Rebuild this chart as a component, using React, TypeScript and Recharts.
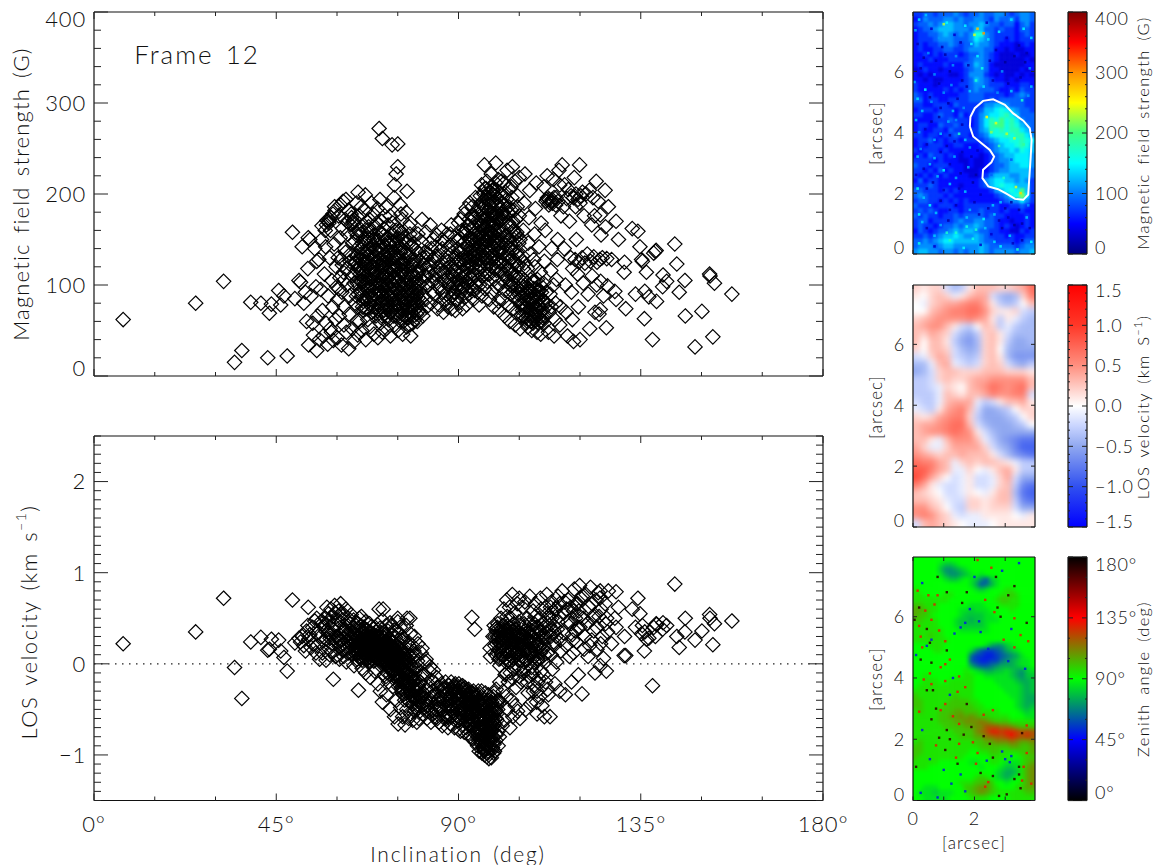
import { ScatterChart, Scatter, XAxis, YAxis, ReferenceLine, ReferenceArea } from "recharts";

const PAGE_W = 1161;
const PAGE_H = 865;
const FONT = "Lato, 'Open Sans', sans-serif";
const INK = "#111";

// each row: inclination (deg), field strength (G), LOS velocity (km/s)
const outliersLeft = [
  [7.2, 62, 0.22], [25.1, 80, 0.35], [32, 104, 0.72], [34.7, 15, -0.04], [36.5, 28, -0.38], [38.7, 81, 0.24],
  [41.2, 80, 0.29], [42.9, 20, 0.15], [43.3, 69, 0.16], [43.8, 79, 0.27], [46.1, 78, 0.14], [45.6, 94, 0.26],
  [46.9, 88, 0.07], [47.7, 22, -0.08], [49.6, 85, 0.23], [49, 158, 0.7], [52.9, 152, 0.62],
];
const outliersTop = [
  [70.4, 272, 0.6], [71.2, 261, 0.48], [73.6, 254, 0.42], [75, 255, 0.46], [75, 230, 0.5], [74.6, 222, 0.36],
  [74.2, 210, 0.3], [77.3, 203, 0.5], [65.2, 202, 0.44], [67, 199, 0.38],
];
const outliersRight = [
  [157.5, 90, 0.47], [152.8, 43, 0.21], [153.2, 102, 0.44], [152, 112, 0.54], [152.1, 110, 0.5], [150.1, 71, 0.36],
  [148.4, 32, 0.26], [146, 66, 0.5], [144.5, 92, 0.18], [145.9, 105, 0.35], [143.9, 123, 0.3], [143.4, 145, 0.875],
  [137.9, 40, -0.24], [135.9, 63, 0.14], [136.4, 114, 0.27], [140.5, 111, 0.45], [141.4, 104, 0.42], [140.4, 98, 0.38],
  [138.8, 138, 0.44], [138.2, 135, 0.4], [135.2, 128, 0.33], [134.8, 142, 0.55], [134.3, 159, 0.72], [132.9, 162, 0.6],
  [131.3, 74, 0.09], [138.9, 82, 0.43], [137, 87, 0.28], [136, 93, 0.35], [133.7, 90, 0.4], [130.9, 114, 0.09],
  [131, 125, 0.3], [128.9, 170, 0.79], [127, 186, 0.8], [125, 177, 0.8], [126.5, 53, -0.08], [125, 73, -0.02],
  [128.9, 84, 0.4], [128.6, 93, 0.5], [126.8, 99, 0.35], [126.6, 129, 0.5], [129.5, 150, 0.62], [127.8, 128, 0.22],
  [135.4, 126, 0.42], [138.6, 137, 0.3],
];
const band50 = [
  [50.6, 105, 0.28], [51, 103, 0.24], [51.4, 142, 0.3], [51.8, 80, 0.2], [52.2, 92, 0.14], [52.5, 60, 0.36], [52.8, 118, 0.42],
  [53, 34, 0.27], [53.3, 150, 0.32], [53.6, 88, 0.18], [54, 58, 0.4], [54.2, 45, 0.22], [54.5, 140, 0.47], [54.8, 98, 0.12],
  [55, 28, 0.33], [55, 126, 0.5],
];
const band55 = [
  [55.2, 66, 0.2], [55.5, 128, 0.35], [55.7, 40, 0.05], [56, 95, 0.3], [56.2, 150, 0.47], [56.4, 72, 0.12], [56.6, 44, 0.25],
  [56.9, 112, 0.4], [57.1, 160, 0.5], [57.3, 58, 0.04], [57.5, 171, 0.62], [57.7, 35, 0.18], [57.8, 88, 0.34], [58, 168, 0.45],
  [58.2, 130, 0.1], [58.3, 52, 0.28], [58.5, 174, 0.6], [58.7, 105, 0.22], [58.9, 76, 0.38], [59, 178, 0.52], [59.1, 39, -0.17],
  [59.3, 145, 0.42], [59.5, 182, 0.56], [59.6, 62, 0.08], [59.8, 120, 0.3], [59.9, 98, 0.25], [56.3, 165, 0.44], [57.2, 142, 0.36],
  [58.6, 48, 0.14], [59.4, 186, 0.64], [57.9, 170, 0.55], [58.1, 172, 0.48], [58.4, 160, 0.33], [57.4, 166, 0.27],
];
const band60 = [
  [60.1, 42, 0.1], [60.2, 84, 0.3], [60.3, 130, 0.48], [60.4, 176, 0.58], [60.6, 66, 0.05], [60.7, 108, 0.25], [60.8, 152, 0.4],
  [60.9, 188, 0.66], [61.1, 34, 0.2], [61.2, 92, 0.34], [61.3, 122, 0.15], [61.4, 162, 0.52], [61.5, 192, 0.55], [61.7, 56, 0.08],
  [61.8, 76, 0.28], [61.9, 140, 0.42], [62, 172, 0.38], [62.2, 194, 0.6], [62.3, 48, 0.02], [62.4, 100, 0.18], [62.5, 118, 0.31],
  [62.6, 156, 0.46], [62.8, 182, 0.5], [62.9, 30, 0.12], [63, 68, 0.24], [63.1, 88, 0.36], [63.3, 134, 0.44], [63.4, 166, 0.29],
  [63.5, 178, 0.54], [63.7, 52, 0.1], [63.8, 110, 0.21], [63.9, 146, 0.33], [64, 170, 0.4], [64.1, 168, 0.48], [64.2, 38, -0.02],
  [64.4, 80, 0.16], [64.5, 124, 0.26], [64.6, 158, 0.37], [64.8, 190, 0.45], [65, 60, 0.05], [65, 102, 0.2], [64.3, 172, 0.23],
  [63.6, 174, 0.3], [62.7, 169, 0.17], [61, 128, 0.27], [61.6, 114, 0.22], [62.1, 136, 0.35], [63.2, 126, 0.19], [64.7, 132, 0.31],
  [64.9, 116, 0.12], [60.5, 96, 0.19], [61.9, 106, 0.37],
];
const band65 = [
  [65.1, 45, 0.02], [65.2, 76, 0.3], [65.3, 118, -0.29], [65.4, 142, 0.25], [65.5, 176, 0.5], [65.6, 60, 0.14], [65.7, 96, 0.36],
  [65.8, 128, 0.08], [65.9, 156, 0.42], [66, 186, 0.52], [66.1, 50, 0.2], [66.2, 88, -0.05], [66.3, 110, 0.28], [66.4, 136, 0.33],
  [66.5, 166, 0.16], [66.6, 72, 0.4], [66.7, 104, 0.11], [66.8, 122, 0.24], [66.9, 150, 0.31], [67, 182, 0.46], [67.1, 40, -0.1],
  [67.2, 84, 0.18], [67.3, 116, 0.05], [67.4, 132, 0.27], [67.5, 160, 0.37], [67.6, 62, 0.22], [67.7, 94, 0.3], [67.8, 108, 0.13],
  [67.9, 140, 0.01], [68, 172, 0.44], [68.1, 54, 0.07], [68.2, 78, -0.15], [68.3, 124, 0.34], [68.4, 146, 0.2], [68.5, 190, 0.41],
  [68.6, 70, 0.26], [68.7, 100, 0.15], [68.8, 120, 0.29], [68.9, 154, 0.09], [69, 178, 0.38], [69.1, 46, 0.03], [69.2, 90, 0.32],
  [69.3, 112, -0.08], [69.4, 138, 0.23], [69.5, 164, 0.17], [69.6, 66, 0.35], [69.7, 98, 0.06], [69.8, 126, 0.25], [69.9, 148, 0.12],
  [70, 184, 0.43], [65.4, 106, 0.21], [66.2, 146, 0.19], [67, 126, 0.15], [67.7, 152, 0.28], [68.3, 134, 0.1], [68.9, 86, 0.2],
  [69.4, 114, 0.28], [66.5, 82, 0.23], [67.4, 74, 0.12], [68.2, 106, 0.33],
];
const band70 = [
  [70.1, 42, -0.22], [70.2, 74, 0.24], [70.3, 102, 0.06], [70.4, 128, 0.3], [70.5, 158, 0.18], [70.6, 194, 0.39], [70.7, 58, -0.3],
  [70.8, 88, 0.14], [70.9, 116, 0.26], [71, 140, 0.02], [71.1, 170, 0.34], [71.2, 48, -0.42], [71.3, 82, 0.1], [71.4, 110, 0.6],
  [71.5, 132, 0.21], [71.6, 162, 0.28], [71.7, 68, -0.12], [71.8, 96, 0.17], [71.9, 122, 0.04], [72, 150, 0.32], [72.1, 186, 0.42],
  [72.2, 52, -0.34], [72.3, 78, 0.08], [72.4, 106, 0.22], [72.5, 136, 0.13], [72.6, 166, 0.36], [72.7, 62, -0.2], [72.8, 90, 0.27],
  [72.9, 118, -0.05], [73, 144, 0.16], [73.1, 176, 0.45], [73.2, 44, -0.5], [73.3, 84, 0.03], [73.4, 112, 0.19], [73.5, 130, 0.31],
  [73.6, 156, -0.09], [73.7, 72, 0.12], [73.8, 100, -0.25], [73.9, 124, 0.24], [74, 148, 0.07], [74.1, 196, 0.37], [74.2, 56, -0.58],
  [74.3, 86, -0.14], [74.4, 108, 0.15], [74.5, 134, 0.29], [74.6, 160, -0.02], [74.7, 66, -0.4], [74.8, 94, 0.09], [74.9, 120, 0.2],
  [75, 142, -0.18], [70.5, 110, 0.2], [71, 92, 0.11], [71.4, 146, 0.07], [72, 76, 0.25], [72.4, 152, -0.1], [72.8, 100, 0.16],
  [73.2, 128, 0.1], [73.6, 92, 0.23], [74, 116, -0.06], [74.5, 76, -0.1], [70.9, 128, 0.14], [71.7, 108, 0.28], [72.5, 90, -0.02],
  [73.3, 148, 0.26], [74.1, 132, 0.18], [70.3, 86, 0.3], [71.2, 120, 0.06], [72.1, 114, -0.14], [73, 70, 0.05], [74.8, 150, 0.13],
];
const band75 = [
  [75.1, 50, -0.66], [75.2, 78, -0.25], [75.3, 104, 0.04], [75.4, 130, 0.22], [75.5, 160, -0.12], [75.6, 188, 0.4], [75.7, 60, -0.48],
  [75.8, 88, -0.07], [75.9, 116, 0.15], [76, 144, 0.3], [76.1, 172, -0.32], [76.2, 46, -0.58], [76.3, 72, -0.18], [76.4, 98, 0.09],
  [76.5, 124, 0.27], [76.6, 152, -0.02], [76.7, 66, -0.4], [76.8, 84, -0.67], [76.9, 110, 0.18], [77, 136, -0.2], [77.1, 180, 0.42],
  [77.2, 54, -0.5], [77.3, 76, -0.1], [77.4, 94, 0.12], [77.5, 120, -0.3], [77.6, 148, 0.24], [77.7, 64, -0.6], [77.8, 82, -0.22],
  [77.9, 106, 0.01], [78, 132, 0.5], [78.1, 168, 0.33], [78.2, 44, -0.55], [78.3, 70, -0.35], [78.4, 92, -0.15], [78.5, 114, 0.06],
  [78.6, 142, 0.2], [78.7, 58, -0.62], [78.8, 80, -0.44], [78.9, 102, -0.26], [79, 126, 0.14], [79.1, 154, 0.3], [79.2, 62, -0.52],
  [79.3, 86, -0.38], [79.4, 108, -0.05], [79.5, 118, 0.1], [79.6, 138, -0.16], [79.7, 68, -0.64], [79.8, 90, -0.28], [79.9, 112, 0.03],
  [80, 156, 0.22], [75.4, 92, -0.15], [76, 68, -0.28], [76.7, 128, 0.04], [77.3, 100, -0.05], [78, 88, -0.12], [78.8, 122, 0.08],
  [79.5, 74, -0.48], [75.8, 136, 0.07], [76.4, 116, -0.1], [77.5, 74, -0.34], [78.4, 76, -0.22], [79.2, 96, -0.18],
];
const band80 = [
  [80.2, 72, -0.6], [80.4, 96, -0.4], [80.6, 118, -0.2], [80.8, 148, 0.12], [81, 172, 0.17], [81.2, 66, -0.55], [81.4, 88, -0.32],
  [81.6, 110, -0.12], [81.8, 136, 0.02], [82, 158, 0.05], [82.2, 76, -0.6], [82.4, 100, -0.46], [82.6, 122, -0.25], [82.8, 146, -0.08],
  [83, 166, -0.03], [83.2, 80, -0.64], [83.4, 104, -0.52], [83.6, 128, -0.35], [83.8, 150, -0.07], [84, 90, -0.58], [84.2, 112, -0.44],
  [84.4, 132, -0.22], [84.6, 155, -0.15], [84.8, 74, -0.6], [85, 98, -0.4], [80.3, 126, -0.28], [81.1, 104, -0.46], [81.9, 84, -0.4],
  [82.7, 114, -0.38], [83.5, 92, -0.3], [84.3, 142, -0.5], [84.9, 120, -0.25], [80.9, 82, -0.12], [82.1, 130, -0.5], [83.3, 140, -0.18],
];
const band85 = [
  [85.2, 78, -0.64], [85.4, 112, -0.3], [85.6, 138, -0.5], [85.8, 160, -0.22], [86, 92, -0.68], [86.2, 124, -0.4], [86.4, 148, -0.26],
  [86.6, 84, -0.56], [86.8, 106, -0.2], [87, 132, -0.6], [87.2, 156, -0.32], [87.4, 76, -0.7], [87.6, 100, -0.24], [87.8, 120, -0.46],
  [88, 144, -0.66], [88.2, 166, -0.2], [88.4, 88, -0.38], [88.6, 110, -0.3], [88.8, 128, -0.54], [89, 152, -0.7], [89.2, 72, -0.22],
  [89.4, 96, -0.44], [89.6, 116, -0.26], [89.8, 140, -0.62], [90, 168, -0.72], [85.5, 96, -0.48], [86.5, 114, -0.6], [87.5, 140, -0.4],
  [88.5, 120, -0.28], [89.5, 84, -0.5], [87.1, 90, -0.34], [88.3, 74, -0.58], [89.3, 130, -0.34], [86.3, 70, -0.28], [88.9, 102, -0.24],
];
const band90 = [
  [90.1, 80, -0.22], [90.2, 106, -0.4], [90.3, 128, -0.3], [90.4, 152, -0.6], [90.5, 172, -0.74], [90.6, 92, -0.25], [90.7, 114, -0.5],
  [90.8, 138, -0.36], [90.9, 160, -0.68], [91, 74, -0.24], [91.1, 98, -0.44], [91.2, 122, -0.28], [91.3, 146, -0.58], [91.4, 178, -0.75],
  [91.5, 86, -0.32], [91.6, 110, -0.26], [91.7, 132, -0.52], [91.8, 156, -0.4], [91.9, 184, -0.7], [92, 78, -0.3], [92.1, 102, -0.62],
  [92.2, 118, -0.45], [92.3, 142, -0.34], [92.4, 166, -0.76], [92.5, 90, -0.28], [92.6, 126, -0.55], [92.7, 150, -0.38], [92.8, 190, -0.8],
  [92.9, 108, -0.46], [93, 136, -0.66], [93.1, 162, -0.32], [93.3, 96, 0.51], [93.4, 120, -0.6], [93.5, 144, -0.42], [93.6, 174, -0.82],
  [93.7, 84, -0.3], [93.8, 112, -0.72], [94, 130, 0.38], [94.1, 154, -0.36], [94.2, 196, -0.86], [94.3, 100, -0.52], [94.4, 124, -0.34],
  [94.5, 148, -0.66], [94.6, 170, -0.44], [94.7, 92, -0.9], [94.8, 116, -0.58], [94.9, 140, -0.3], [95, 186, -0.78], [95, 158, -0.5],
  [93.9, 134, -0.5], [92.7, 130, -0.58], [91.1, 158, -0.5], [90.5, 124, -0.45], [94.4, 180, -0.74], [93.2, 176, -0.54], [95, 106, -0.84],
];
const band95 = [
  [95.1, 78, -0.96], [95.2, 100, -0.34], [95.3, 122, -0.72], [95.4, 144, -0.45], [95.5, 166, -0.88], [95.6, 190, -0.56], [95.7, 210, -0.3],
  [95.8, 88, -0.98], [95.9, 110, -0.64], [96, 132, -0.38], [96.1, 154, -0.8], [96.2, 176, -0.5], [96.3, 200, -0.94], [96.4, 232, -1.0],
  [96.5, 96, -0.7], [96.6, 118, -0.32], [96.7, 140, -0.9], [96.8, 162, -0.6], [96.9, 184, -0.42], [97, 214, -1.02], [97.1, 104, -0.78],
  [97.2, 126, -0.52], [97.3, 148, -0.96], [97.4, 170, -0.34], [97.5, 194, -1.04], [97.6, 84, -0.66], [97.7, 112, -0.86], [97.8, 136, 0.17],
  [97.9, 158, 0.08], [98, 180, -0.44], [98.1, 222, -1.03], [98.2, 92, -0.74], [98.3, 120, -0.58], [98.4, 142, -0.92], [98.5, 164, 0.3],
  [98.6, 204, -0.36], [98.7, 76, -0.98], [98.8, 106, 0.42], [98.9, 130, -0.7], [99, 152, 0.2], [99.1, 174, -0.5], [99.2, 234, -0.84],
  [99.3, 98, -0.28], [99.4, 116, 0.36], [99.5, 138, -0.62], [99.6, 160, 0.12], [99.7, 186, 0.44], [99.8, 216, -0.9], [99.9, 82, -0.4],
  [100, 128, 0.05], [96, 192, -0.7], [96.6, 172, -0.76], [97.2, 182, -0.82], [97.8, 202, -0.6], [98.4, 190, -0.54], [99, 198, 0.3],
  [95.4, 198, -0.62], [96.2, 146, -0.6], [97, 156, -0.66], [97.6, 166, -0.5], [98.2, 172, -0.42], [99.2, 166, 0.38], [95.9, 174, -0.44],
  [96.8, 130, -0.8], [97.4, 124, -0.72], [98, 152, -0.8], [98.8, 178, -0.32], [99.6, 144, 0.4], [95.2, 150, -0.7], [96.4, 112, -0.88],
  [97.1, 194, -0.56], [98.3, 204, -0.7], [99.4, 190, 0.22], [99.8, 172, 0.28],
];
const band100 = [
  [100.1, 72, -0.8], [100.2, 100, -0.2], [100.3, 124, 0.32], [100.4, 148, -0.42], [100.5, 172, 0.5], [100.6, 200, 0.1], [100.8, 84, -0.68],
  [100.9, 112, 0.42], [101, 136, -0.3], [101.1, 160, 0.2], [101.2, 188, 0.6], [101.3, 212, 0.36], [101.4, 66, -0.62], [101.5, 94, -0.12],
  [101.6, 120, 0.3], [101.7, 144, 0.02], [101.8, 168, -0.36], [101.9, 194, 0.7], [102, 226, 0.52], [102.1, 78, -0.5], [102.2, 106, 0.26],
  [102.3, 130, -0.2], [102.4, 152, 0.14], [102.5, 178, 0.4], [102.6, 206, 0.62], [102.7, 60, -0.7], [102.8, 90, -0.1], [102.9, 116, 0.34],
  [103, 140, 0.08], [103.1, 164, -0.4], [103.2, 196, 0.24], [103.3, 230, 0.76], [103.4, 74, -0.58], [103.5, 102, 0.18], [103.6, 126, 0.44],
  [103.7, 150, -0.06], [103.8, 182, 0.3], [103.9, 214, 0.56], [104, 56, -0.46], [104.1, 86, 0.12], [104.2, 110, -0.26], [104.3, 134, 0.38],
  [104.4, 158, 0.22], [104.5, 186, 0.66], [104.6, 70, -0.52], [104.7, 96, 0.3], [104.8, 122, 0.04], [104.9, 146, 0.46], [105, 176, -0.14],
  [105, 218, 0.72], [100.7, 140, 0.26], [101.4, 176, 0.16], [102, 146, 0.36], [102.6, 126, 0.1], [103.4, 170, 0.4], [104, 124, 0.25],
  [104.6, 154, 0.34], [100.4, 190, 0.18], [101, 104, 0.28], [103, 100, 0.32],
];
const band105 = [
  [105.2, 52, -0.6], [105.4, 80, -0.2], [105.6, 108, 0.3], [105.8, 132, 0.62], [106, 160, -0.1], [106.2, 190, 0.44], [106.4, 222, 0.68],
  [106.6, 64, -0.5], [106.8, 92, 0.14], [107, 118, 0.5], [107.2, 146, -0.32], [107.4, 174, 0.26], [107.6, 204, 0.74], [107.8, 60, -0.44],
  [108, 72, -0.04], [108.2, 84, 0.36], [108.4, 104, 0.58], [108.6, 128, -0.24], [108.8, 156, 0.08], [109, 184, 0.66], [109.2, 212, 0.4],
  [109.4, 48, -0.55], [109.6, 66, 0.22], [109.8, 78, -0.16], [110, 94, 0.5], [110.2, 114, 0.72], [105.5, 66, 0.2], [106.1, 76, 0.02],
  [106.7, 58, 0.3], [107.3, 82, -0.14], [107.9, 68, 0.1], [108.5, 62, -0.3], [109.1, 76, 0.26], [109.7, 58, 0.4], [110.1, 70, -0.36],
  [106.5, 100, 0.42], [107.5, 92, 0.24], [108.7, 88, 0.44], [109.5, 106, 0.06], [105.9, 88, 0.32], [107.1, 54, 0.16], [108.1, 50, -0.12],
  [109.3, 88, -0.42], [110.3, 46, 0.34], [106.3, 124, 0.16], [107.7, 134, 0.3], [108.9, 120, 0.52], [109.9, 142, 0.18], [110.4, 168, 0.6],
];
const band110 = [
  [110.6, 60, -0.46], [110.8, 84, 0.16], [111, 102, 0.44], [111.2, 126, -0.58], [111.4, 160, 0.28], [111.6, 192, 0.62], [111.8, 194, 0.76],
  [112, 196, 0.12], [112.2, 48, -0.34], [112.4, 70, 0.5], [112.6, 90, -0.58], [112.8, 116, 0.3], [113, 140, 0.68], [113.2, 190, -0.06],
  [113.4, 216, 0.42], [113.6, 44, 0.2], [113.8, 62, -0.22], [114, 80, 0.6], [114.2, 106, 0.02], [114.4, 128, 0.38], [114.6, 192, 0.74],
  [114.8, 226, 0.52], [115, 56, -0.3], [115.2, 76, 0.26], [112.3, 188, 0.35], [113.1, 194, 0.5], [114.1, 196, 0.3], [111.1, 208, 0.4],
  [115, 210, 0.66], [112.9, 76, 0.1], [111.5, 80, -0.2], [113.5, 100, 0.24], [114.5, 150, 0.46], [115.3, 176, 0.14], [111.9, 220, 0.55],
];
const band115 = [
  [115.6, 232, 0.8], [115.9, 186, 0.34], [116.1, 140, 0.56], [116.4, 100, -0.34], [116.6, 70, 0.2], [116.9, 44, 0.46], [117.1, 205, 0.7],
  [117.4, 170, 0.08], [117.7, 130, 0.62], [117.9, 92, -0.2], [118.1, 62, 0.32], [118.4, 38, 0.12], [118.6, 218, 0.82], [118.9, 186, 0.5],
  [119.1, 150, 0.24], [119.4, 112, 0.66], [119.6, 76, -0.12], [119.9, 232, 0.86], [120, 40, 0.4], [120.2, 198, 0.72], [120.5, 130, -0.33],
  [120.8, 102, 0.5], [121, 176, 0.16], [116.7, 195, 0.6], [117.8, 198, 0.44], [118.8, 128, 0.36], [119.7, 125, 0.58], [116.2, 210, 0.68],
  [118.2, 118, 0.26], [121.2, 124, 0.3],
];
const band120 = [
  [121.5, 200, 0.76], [121.8, 134, 0.44], [122, 90, 0.08], [122.3, 204, 0.62], [122.6, 126, 0.84], [122.9, 166, 0.26], [123.2, 196, 0.5],
  [123.4, 131, 0.36], [123.7, 70, -0.1], [124, 214, 0.7], [124.2, 125, 0.16], [124.5, 192, 0.78], [124.7, 68, 0.52], [125.2, 155, 0.6],
  [125.5, 130, 0.3], [125.8, 88, 0.06], [126.2, 204, 0.66], [126.3, 164, 0.44], [122.4, 52, 0.2], [123, 110, 0.66], [124.1, 100, 0.4],
  [124.9, 128, 0.72], [125.1, 104, 0.22], [123.6, 176, 0.54],
];
// the black cores of the two clouds
const coreLeft = [
  [64.6, 126, 0.2], [65, 132, 0.3], [65.5, 118, 0.12], [65.9, 140, 0.24], [66.3, 126, 0.34], [66.7, 112, 0.18], [67.1, 136, 0.28], [67.5, 120, 0.1],
  [67.9, 98, 0.22], [68.3, 116, 0.3], [68.7, 130, 0.16], [69.1, 106, 0.08], [69.5, 124, 0.2], [69.9, 94, 0.3], [70.3, 136, 0.12], [70.7, 100, 0.24],
  [71.1, 124, 0.14], [71.5, 86, 0.02], [71.9, 112, 0.2], [72.3, 130, 0.08], [72.7, 108, -0.02], [73.1, 96, 0.18], [73.5, 118, 0.06], [73.9, 84, -0.08],
  [74.3, 130, 0.14], [74.7, 104, 0.02], [75.1, 120, -0.1], [75.5, 84, 0.1], [75.9, 100, -0.2], [76.3, 124, -0.04], [76.7, 80, 0.06], [77.1, 106, -0.16],
  [77.5, 90, -0.26], [77.9, 76, -0.06], [78.3, 100, -0.3], [78.7, 86, -0.14], [79.1, 72, -0.36], [79.5, 94, -0.24], [79.9, 80, -0.44], [80.3, 102, -0.34],
  [66, 92, 0.14], [66.8, 86, 0.26], [67.6, 110, 0.06], [68.4, 88, 0.18], [69.2, 76, 0.1], [70, 72, 0.2], [70.8, 80, 0.04], [71.6, 72, 0.16],
  [72.4, 66, 0.1], [73.2, 76, -0.12], [74, 66, 0.04], [74.8, 78, -0.2], [75.6, 66, -0.12], [76.4, 60, -0.34], [77.2, 64, -0.24], [78, 56, -0.42],
  [68, 150, 0.16], [69, 142, 0.26], [70, 150, 0.06], [71, 156, 0.2], [72, 142, 0.02], [73, 136, 0.22], [74, 160, 0.1], [75, 152, 0.04],
  [76, 158, 0.14], [77, 146, -0.1], [78, 156, 0.08], [79, 146, -0.06], [65, 154, 0.12], [66.4, 158, 0.36], [67.4, 170, 0.08], [69.8, 168, 0.22],
  [71.8, 176, 0.04], [73.8, 168, 0.16], [75.8, 178, 0.26], [77.8, 164, 0.2],
];
const coreLeftDense = [
  [64.2, 102, 0.22], [64.5, 148, 0.32], [64.8, 88, 0.1], [65.1, 122, 0.27], [65.4, 160, 0.18], [65.7, 112, 0.06], [66, 134, 0.32], [66.3, 76, 0.2],
  [66.6, 148, 0.12], [66.9, 100, 0.3], [67.2, 124, 0.22], [67.5, 88, 0.14], [67.8, 164, 0.26], [68.1, 128, 0.04], [68.4, 70, 0.28], [68.7, 112, 0.12],
  [69, 150, 0.32], [69.3, 96, 0.18], [69.6, 132, 0.08], [69.9, 110, 0.24], [70.2, 80, 0.16], [70.5, 142, 0.28], [70.8, 120, -0.02], [71.1, 66, 0.12],
  [71.4, 100, 0.22], [71.7, 154, 0.1], [72, 124, 0.14], [72.3, 84, 0.04], [72.6, 116, 0.24], [72.9, 146, 0.1], [73.2, 104, -0.06], [73.5, 70, 0.08],
  [73.8, 136, 0.18], [74.1, 90, 0.02], [74.4, 120, 0.12], [74.7, 146, -0.06], [75, 72, -0.14], [75.3, 110, 0.08], [75.6, 136, -0.02], [75.9, 92, -0.26],
  [76.2, 150, 0.02], [76.5, 76, -0.18], [76.8, 118, -0.08], [77.1, 92, -0.32], [77.4, 132, 0.06], [77.7, 70, -0.12], [78, 112, -0.24], [78.3, 144, -0.02],
  [78.6, 84, -0.36], [78.9, 66, -0.2], [79.2, 128, -0.1], [79.5, 102, -0.3], [79.8, 60, -0.5], [80.1, 86, -0.24], [80.4, 134, -0.36], [80.7, 70, -0.44],
  [65.2, 90, 0.16], [65.8, 104, 0.22], [66.4, 118, 0.08], [67, 74, 0.32], [67.6, 138, 0.16], [68.2, 160, 0.3], [68.8, 94, 0.24], [69.4, 84, 0.14],
  [70, 126, 0.18], [70.6, 92, 0.1], [71.2, 110, 0.2], [71.8, 134, 0.16], [72.4, 100, 0.06], [73, 120, 0.2], [73.6, 108, 0], [74.2, 78, 0.1],
  [74.8, 130, 0.08], [75.4, 100, -0.04], [76, 112, -0.14], [76.6, 136, 0.1], [77.2, 84, -0.12], [77.8, 96, -0.2], [78.4, 122, -0.16], [79, 110, -0.36],
  [79.6, 88, -0.4], [80.2, 114, -0.46], [66.2, 104, 0.04], [67.3, 96, 0.18], [68.6, 76, 0.06], [69.7, 140, 0.14], [70.9, 64, 0.24], [72.2, 92, 0.14],
  [73.4, 90, 0.12], [74.6, 94, -0.02], [75.7, 122, -0.16], [76.9, 100, 0.02], [78.1, 84, -0.3], [79.3, 78, -0.28],
];
const coreMiddle = [
  [81, 130, -0.36], [81.5, 122, -0.44], [82, 110, -0.3], [82.5, 134, -0.52], [83, 120, -0.42], [83.5, 110, -0.56], [84, 126, -0.34], [84.5, 104, -0.5],
  [85, 132, -0.44], [85.5, 116, -0.36], [86, 140, -0.52], [86.5, 104, -0.44], [87, 118, -0.34], [87.5, 126, -0.54], [88, 104, -0.4], [88.5, 136, -0.48],
  [89, 116, -0.3], [89.5, 106, -0.56], [90, 126, -0.38], [90.5, 100, -0.5], [91, 116, -0.34], [91.5, 140, -0.46], [92, 130, -0.56], [92.5, 112, -0.38],
  [93, 122, -0.5], [93.5, 132, -0.32], [94, 110, -0.46], [94.5, 136, -0.6], [87, 80, -0.46], [88, 86, -0.58], [89, 92, -0.36], [90, 88, -0.62],
  [91, 96, -0.54], [92, 94, -0.44], [93, 98, -0.68], [94, 94, -0.76], [86, 150, -0.38], [88, 156, -0.46], [90, 150, -0.3], [92, 160, -0.64],
  [87.3, 108, -0.28], [87.8, 98, -0.38], [88.3, 112, -0.5], [88.8, 92, -0.26], [89.3, 122, -0.42], [89.8, 100, -0.32], [90.3, 136, -0.26], [90.8, 108, -0.56],
  [91.3, 128, -0.4], [91.8, 104, -0.3], [92.3, 120, -0.62], [92.8, 140, -0.48], [93.3, 106, -0.36], [93.8, 150, -0.58], [94.3, 118, -0.66], [94.8, 128, -0.42],
];
const coreRight = [
  [92.6, 172, -0.4], [93, 150, -0.5], [93.4, 186, -0.62], [93.8, 164, -0.34], [94.2, 144, -0.52], [94.6, 160, -0.72], [95, 134, -0.42], [95.4, 176, -0.84],
  [95.8, 154, -0.5], [96.2, 126, -0.7], [96.6, 150, -0.44], [97, 176, -0.88], [97.4, 140, -0.62], [97.8, 158, -0.92], [98.2, 132, -0.5], [98.6, 168, -0.8],
  [99, 140, -0.66], [99.4, 178, -0.44], [99.8, 154, -0.74], [96, 168, -0.58], [96.4, 186, -0.96], [96.8, 206, -0.78], [97.2, 166, -0.98], [97.6, 188, -0.4],
  [98, 208, -0.72], [98.4, 166, -0.62], [98.8, 192, -0.88], [99.2, 148, -0.52], [99.6, 120, 0.3], [100, 160, 0.16], [100.4, 116, 0.36], [100.8, 178, 0.28],
  [101.2, 128, 0.2], [101.6, 154, 0.34], [102, 118, 0.12], [102.4, 186, 0.26], [102.8, 140, 0.4], [103.2, 112, 0.22], [103.6, 160, 0.06], [104, 96, 0.34],
  [104.4, 136, 0.14], [104.8, 108, 0.28], [105.2, 150, 0.42], [105.6, 92, 0.08], [106, 118, 0.3], [100.2, 136, -0.02], [101, 180, 0.08], [101.8, 108, -0.1],
  [102.6, 150, 0.02], [103.4, 92, -0.16], [104.2, 172, 0.1], [105, 84, -0.04], [105.8, 72, 0.2], [106.4, 84, 0.36], [106.8, 70, 0.04], [107.2, 96, 0.26],
  [107.6, 80, 0.44], [108, 60, 0.12], [108.4, 74, 0.3], [108.8, 66, 0.02], [109.2, 96, 0.2], [109.6, 84, -0.2], [110, 64, 0.36], [110.4, 86, -0.08],
  [110.8, 72, 0.28], [111.2, 58, 0.1], [111.6, 92, 0.34], [112, 78, -0.28], [105.4, 100, 0.1], [106.2, 106, -0.06], [107, 76, -0.2], [107.8, 106, 0.16],
  [108.6, 96, -0.1], [109.4, 72, -0.3], [110.2, 100, 0.06], [111, 66, -0.12], [99.2, 212, 0.1], [100.6, 214, 0.38], [101.6, 202, 0.44], [103, 208, 0.5],
  [104.6, 198, 0.16], [100, 184, 0.3],
];
const coreRightDense = [
  [93.2, 128, -0.44], [93.6, 156, -0.66], [94, 174, -0.5], [94.4, 140, -0.36], [94.8, 152, -0.8], [95.2, 118, -0.58], [95.6, 144, -0.76], [96, 110, -0.46],
  [96.3, 162, -0.84], [96.6, 130, -0.62], [96.9, 196, -0.5], [97.2, 112, -0.74], [97.5, 152, -0.58], [97.8, 176, -0.82], [98.1, 120, -0.44], [98.4, 200, -0.94],
  [98.7, 146, -0.68], [99, 178, -0.54], [99.3, 126, -0.78], [99.6, 196, -0.4], [95.3, 166, -0.52], [95.7, 184, -0.66], [96.1, 138, -0.92], [96.5, 206, -0.72],
  [96.9, 148, -0.42], [97.3, 200, -0.92], [97.7, 130, -0.56], [98.1, 158, -0.66], [98.5, 128, -0.86], [98.9, 160, -0.96], [99.3, 204, -0.6], [99.7, 136, -0.5],
  [100, 146, 0.24], [100.3, 170, 0.06], [100.6, 126, 0.34], [100.9, 196, 0.14], [101.2, 152, 0.26], [101.5, 112, 0.06], [101.8, 184, 0.32], [102.1, 134, 0.2],
  [102.4, 168, 0.04], [102.7, 100, 0.3], [103, 182, 0.14], [103.3, 130, 0.26], [103.6, 146, 0.36], [103.9, 108, 0], [104.2, 156, 0.24], [104.5, 120, 0.12],
  [104.8, 90, 0.2], [105.1, 130, 0.32], [105.4, 78, 0.04], [105.7, 96, 0.22], [106, 66, 0.3], [106.3, 90, 0.14], [106.6, 76, 0.26], [106.9, 102, 0.04],
  [107.2, 62, 0.36], [107.5, 84, 0.12], [107.8, 94, 0.3], [108.1, 78, 0.2], [108.4, 58, 0.06], [108.7, 104, 0.26], [109, 68, 0.14], [109.3, 82, 0.34],
  [109.6, 94, 0.04], [109.9, 76, 0.22], [110.2, 60, 0.12], [110.5, 92, 0.3], [110.8, 64, 0.04], [111.1, 82, 0.2],
  [113, 192, 0.56], [112.4, 194, 0.42], [112.7, 190, 0.62], [113.6, 196, 0.36], [114, 188, 0.6], [118.4, 196, 0.58], [119, 200, 0.66], [119.5, 194, 0.4],
  [120, 190, 0.52], [120.6, 202, 0.74],
];

const cloudPoints = [
  ...outliersLeft, ...outliersTop, ...outliersRight, ...band50, ...band55, ...band60, ...band65, ...band70,
  ...band75, ...band80, ...band85, ...band90, ...band95, ...band100, ...band105, ...band110, ...band115, ...band120,
  ...coreLeft, ...coreLeftDense, ...coreMiddle, ...coreRight, ...coreRightDense,
];
const fieldData = cloudPoints.map((p) => ({ x: p[0], y: p[1] }));
const velocityData = cloudPoints.map((p) => ({ x: p[0], y: p[2] }));

// field map: one character per cell, base 36, in units of 18 G
const fieldRows = [
  "445545556545565566545665", "346555665655665465564665", "455656776656676554553564", "345567776665775545443554",
  "344556765656996544443454", "344456665556876544343444", "343445565455766543332343", "343344554456665533232233",
  "334343444345565432223223", "333433344445665432222232", "343333433355765322222233", "234332333345665332222323",
  "323233322346664323223232", "332322333345765433232333", "433323333445665444333443", "433333434345655543343544",
  "543433333445554444345654", "553443344445554545555544", "443344435444446677655544", "344434443444457789876554",
  "443345443534467889a87555", "333344454443468a9b9a8655", "344335445443468abb9a9765", "343344354444467a9a9aa875",
  "443443445443456899a9aa86", "344534344344445678899a98", "343444334433344567889a97", "434443433333334567787987",
  "343544343233323456778886", "444434333223223456678886", "544344433323223455677886", "443435343322233456677775",
  "434343433332234677766775", "353443333333346788776764", "444543333233345789887774", "554443434333333467898b74",
  "565444343333333345689c84", "455443434343333334566864", "544434443344444443344543", "454543344344454443433433",
  "545443445455554544333343", "455344445655665543323343", "454434556566765543432343", "354345567677655443322434",
  "445456778766765444343344", "556567887777765544443455", "566656776666676555554566", "677665665656676566665667",
];

// isolated pixels on the field map: arcsec, arcsec, G
const fieldSpeckles = [
  [0.2, 7.7, 140], [0.6, 7.4, 30], [1.1, 7.6, 150], [1.35, 7.2, 30], [1.7, 7.5, 150], [2.4, 7.6, 30], [2.8, 7.3, 150], [3.2, 7.7, 140], [3.6, 7.4, 150], [3.85, 7.1, 140],
  [0.15, 6.9, 20], [0.5, 6.6, 110], [0.95, 6.8, 20], [1.4, 6.5, 110], [1.9, 6.9, 150], [2.1, 6.5, 150], [2.25, 6.1, 160], [1.8, 6.2, 20], [2.7, 6.7, 20], [3.3, 6.5, 10],
  [0.25, 6.1, 20], [0.7, 5.9, 110], [1.2, 6.0, 15], [1.6, 5.7, 15], [2.05, 5.7, 170], [2.3, 5.5, 140], [2.9, 6.0, 110], [3.5, 5.8, 20], [3.8, 6.1, 110], [0.4, 5.4, 150],
  [0.15, 5.1, 140], [0.55, 5.15, 15], [1.0, 5.3, 110], [1.45, 5.1, 20], [1.85, 5.35, 130], [2.75, 5.3, 110], [3.2, 5.35, 130], [3.55, 5.05, 170], [3.75, 5.2, 110], [0.9, 4.8, 20],
  [0.3, 4.7, 130], [1.3, 4.7, 130], [0.6, 4.35, 15], [1.15, 4.35, 120], [1.6, 4.25, 20], [0.2, 4.0, 110], [0.9, 3.95, 130], [1.5, 3.95, 170], [1.7, 3.75, 130], [0.45, 3.6, 20],
  [1.1, 3.55, 20], [0.15, 3.2, 130], [0.7, 3.15, 130], [1.35, 3.2, 120], [1.9, 3.2, 20], [0.35, 2.8, 20], [1.0, 2.75, 150], [1.55, 2.65, 15], [2.05, 2.6, 15], [0.15, 2.15, 160],
  [0.65, 2.35, 20], [1.2, 2.3, 130], [1.7, 2.05, 130], [0.35, 1.85, 130], [0.9, 1.75, 15], [1.4, 1.6, 20], [2.0, 1.7, 20], [2.6, 1.6, 130], [3.0, 1.5, 15], [3.45, 1.45, 15],
  [0.2, 1.3, 150], [0.75, 1.35, 130], [1.15, 1.1, 15], [1.75, 1.2, 130], [2.3, 1.15, 150], [2.8, 1.1, 20], [3.3, 0.95, 10], [3.7, 1.2, 130], [0.45, 0.85, 20], [1.4, 0.7, 170],
  [2.05, 0.8, 170], [2.55, 0.65, 30], [3.15, 0.6, 130], [3.55, 0.45, 20], [0.2, 0.35, 160], [0.7, 0.25, 30], [1.2, 0.45, 180], [1.65, 0.2, 150], [2.2, 0.3, 30], [2.85, 0.25, 150],
  [3.4, 0.15, 170], [3.85, 0.4, 150], [2.4, 4.5, 250], [2.7, 4.3, 240], [2.55, 4.0, 220], [3.05, 3.95, 230], [3.3, 3.8, 230], [3.6, 3.6, 190], [3.35, 2.2, 240], [3.5, 2.0, 270],
  [2.95, 2.5, 170], [2.55, 2.6, 90], [3.2, 3.1, 90], [2.8, 3.55, 180], [2.1, 7.4, 280], [2.0, 7.2, 240], [2.3, 7.25, 300], [1.0, 7.55, 230],
  [0.08, 7.35, 120], [0.42, 7.85, 130], [0.85, 7.1, 110], [1.55, 6.95, 20], [2.45, 7.05, 140], [3.05, 7.1, 30], [3.45, 6.85, 15], [3.7, 6.6, 20], [0.35, 6.45, 15], [0.75, 6.35, 30],
  [1.05, 6.55, 15], [1.3, 6.2, 110], [2.5, 6.35, 20], [3.0, 6.3, 10], [3.65, 6.3, 10], [0.05, 5.65, 120], [0.85, 5.6, 20], [1.25, 5.55, 110], [1.75, 5.5, 20], [2.6, 5.7, 20],
  [3.1, 5.6, 15], [3.85, 5.5, 130], [0.6, 5.0, 110], [1.15, 4.95, 15], [1.65, 4.8, 110], [0.1, 4.4, 130], [0.85, 4.5, 15], [1.4, 4.4, 110], [0.4, 4.1, 25], [1.2, 3.9, 20],
  [0.7, 3.75, 125], [1.35, 3.7, 25], [1.85, 3.5, 110], [0.25, 3.45, 110], [0.9, 3.35, 25], [1.6, 3.35, 25], [2.1, 3.4, 25], [0.55, 2.95, 125], [1.2, 2.95, 25], [1.8, 2.85, 120],
  [0.1, 2.6, 25], [0.8, 2.55, 125], [1.4, 2.5, 120], [1.95, 2.35, 15], [0.45, 2.15, 25], [1.0, 2.1, 25], [1.5, 2.15, 25], [2.2, 1.95, 25], [2.45, 1.5, 20], [2.85, 1.7, 130],
  [3.2, 1.7, 15], [3.75, 1.6, 110], [0.55, 1.6, 150], [1.2, 1.45, 25], [1.85, 1.45, 120], [2.15, 1.3, 25], [2.65, 1.3, 130], [3.1, 1.2, 25], [3.55, 1.0, 15], [0.3, 1.05, 130],
  [0.9, 0.95, 120], [1.75, 0.9, 160], [2.35, 0.85, 130], [2.9, 0.85, 15], [3.8, 0.85, 15], [0.7, 0.6, 130], [1.1, 0.7, 170], [1.95, 0.5, 160], [2.65, 0.4, 140], [3.25, 0.35, 25],
];

// velocity map in tenths of km/s
const velocityRows = [
  [2, 1, 2, 2, -2, -4, -3, 1, 3, 3, 3, 2, 2, 3, 4, 7],
  [1, 0, 2, 3, 2, -1, 1, 3, 4, 4, -2, -4, -5, -4, 2, 6],
  [0, -1, 2, 3, 4, 4, 5, 6, 6, 4, 1, -3, -4, -3, 0, 3],
  [0, 0, 3, 4, 5, 6, 6, 7, 7, 5, 2, 1, 1, 2, -2, -3],
  [2, 3, 4, 5, 5, 5, 5, 6, 5, 4, 1, -3, 1, -1, -3, -4],
  [3, 4, 5, 5, 3, 1, -2, -3, 0, 3, 2, -3, -1, -3, -4, -4],
  [3, 2, 4, 3, 2, -2, -4, -5, -3, 2, 3, 1, -2, -4, -4, -4],
  [3, 0, 3, 3, 1, -3, -5, -6, -4, 2, 3, 1, -3, -5, -5, -4],
  [2, 0, 3, 3, 2, -2, -4, -5, -4, 2, 3, 0, -4, -5, -5, -5],
  [-2, -1, 2, 4, 3, -2, -3, -4, -3, 2, 3, 1, -4, -6, -6, -6],
  [-4, -4, -1, 3, 4, -1, -2, -3, -2, 2, 3, 2, -2, -4, -5, -3],
  [-5, -4, -2, 2, 3, 3, 2, 2, 2, 3, 3, 3, 2, 2, 2, 1],
  [-3, -3, -2, 2, 3, 2, 2, 3, 4, 4, 5, 5, 5, 5, 5, 3],
  [-3, -3, -2, -1, 2, 1, 0, 3, 4, 5, 7, 6, 5, 6, 7, 3],
  [-3, -3, -3, -1, 3, 2, 1, 3, 3, 4, 6, 5, 5, 6, 6, -2],
  [-2, -3, -3, -1, 3, 4, 4, 4, -1, -3, -2, 1, 3, 3, 4, 1],
  [-1, -2, -3, 1, 4, 5, 6, 3, -2, -5, -5, -4, -3, 0, 2, 2],
  [2, 1, 2, 4, 5, 6, 6, 2, -3, -5, -5, -5, -4, -3, 0, 2],
  [3, 4, 4, 5, 6, 7, 7, 3, -2, -4, -5, -5, -5, -4, -3, 0],
  [3, 4, 5, 5, 6, 7, 6, 5, 1, -2, -4, -5, -5, -5, -5, -5],
  [3, 3, 1, -1, 3, 5, 5, 5, 3, -1, -3, -5, -6, -7, -8, -8],
  [4, 2, -1, -1, 2, 4, 4, 4, 4, 2, -2, -4, -5, -7, -9, -9],
  [5, 4, 3, 2, 3, 3, 4, 3, 3, 3, 1, -2, -4, -6, -7, -8],
  [7, 6, 6, 4, 3, -1, 2, 3, 2, 3, 3, 2, 1, -1, -3, -3],
  [8, 8, 6, 4, 3, -1, -1, 2, 0, -1, 1, 3, 4, 1, -3, -3],
  [9, 7, 4, 2, 0, -2, -1, 1, -2, -2, -1, 2, 4, -2, -5, -5],
  [6, 4, 1, -1, -2, -2, -1, 1, -2, -2, -1, 2, 3, -3, -7, -8],
  [3, 2, 1, 0, -2, -2, -1, 1, 0, -1, 1, 3, 3, -4, -8, -9],
  [3, 3, 2, 1, -1, -2, -2, 2, 2, 1, 2, 3, 3, -3, -7, -8],
  [5, 5, 3, 2, 0, -2, -3, 2, 2, 1, 2, 2, 2, -2, -5, -5],
  [5, 6, 5, 3, 2, -1, -2, -1, -1, 1, 1, 1, 1, 0, -1, 1],
  [-2, 3, 4, 3, 2, 1, 0, -1, -1, -1, 0, 1, 1, 1, 1, 1],
];

// zenith map: one character per cell, base 36, in units of 5 deg (i = 90)
const zenithRows = [
  "iiiiiiiiiiiiiiiiiiiiiiii", "iiiiihgghiiiiiiiiiiiiiii", "iiiiigeefghiiiiiiiiiiiii", "iiiiihfeefghihiiiiiiiiii",
  "iiiiiihgghihgecghiiiiiii", "iiiiiiiiiiihfcdfhiiiiiii", "jiiiiiiiiiiihghiiijjiiii", "jjiiiijjiiiiiiiiijjkjiii",
  "jjjjjjjiiiiiiiiijkkjjiii", "kkjjjiiiiiihhhiiijjjjiii", "llkjjiiiihhghhhiiiijiiii", "lkkjiiiiihgggghhiiiiiiii",
  "kkjjjiiihggfgghhhiiiiiii", "jjjjjiiihggggghiiiiiiiii", "jjjjjjiiihhhhhhiiiiiiiii", "jjjkjjiiiiiiiiiiiiiiiiii",
  "jjjjjjjiiiiiiiiiiiiiiiii", "iiijjjiiiiiiiihfeeghiiii", "iiiijjiiiiihecbbcdfghiii", "iiiiiiiiiiidbbaabcdefhii",
  "iiiiiiiiiiicbaabbdefghhi", "iiiiiiiiiiifdccdefffghhi", "iiiiiiiiiijihgffgghgfegh", "iijiiiiiiijjiihhhhhgfegg",
  "iijjjiijjjjjiiiihhhhgffg", "ijjjjjjjjjjjiiiiihhhhgfg", "jjjjjjjjjjjjiiiiiihhhgfg", "kjjjjjjjkjjjiiiiiiihhgff",
  "kkjjjjjkkkkjjiiiiiiihgff", "kkjjjjkkkkkkjjiiiiiihgfg", "jkjjjkkkllkkkjjjjiiiihgh", "jjjjjkkllmlmlkkjjjjiiihh",
  "jjjjjkkkllmmmnmlkkkjjjjj", "jjjjjjkkkkllmmooonnmlkkk", "jjjjjjjjkkkkmnoqqpqqpopo", "jjjjjjjjjkkkllnnoopqpopo",
  "jkjjjjjjjjjjkkllmmmnmllm", "kkjjjjjjjjjjjkkkkkkllkkl", "kkjjjjjjjjjiijjkkjjjjkkl", "kjjjjjjjjjiiiiijjjjiijkk",
  "jjjjjiiiiiihhiijjihhhjkl", "jjjiiiiiiiiiihiiihgghjlm", "iiiiiiiiiiiiiiiihgffgjlm", "iiiiiiiiiiiijkjihgfgijlm",
  "iiiiiiiiijjjkklkiihiijlm", "iihhhiiiiikklmmkjiiijkll", "ihhhghhhiijklmlkjjjjjjkk", "iihhhhhiiiijjjjiiiijjjjj",
];

// isolated pixels on the zenith map: arcsec, arcsec, angle
const zenithSpeckles = [
  [0.3, 7.1, 50], [0.8, 7.3, 172], [1.1, 6.8, 172], [0.5, 6.7, 130], [0.8, 6.7, 130], [0.2, 6.3, 172], [0.4, 6.2, 130], [0.05, 5.9, 172],
  [0.2, 5.7, 130], [0.6, 5.9, 130], [0.45, 5.6, 172], [0.25, 5.35, 130], [0.6, 5.25, 50], [0.55, 5.15, 172], [0.45, 5.05, 50], [1.05, 5.2, 130],
  [1.1, 4.9, 172], [0.25, 4.6, 172], [0.1, 4.75, 50], [0.6, 4.5, 172], [1.2, 4.6, 130], [0.9, 4.35, 130], [0.55, 4.15, 130], [1.5, 4.05, 130],
  [1.3, 4.0, 50], [0.6, 3.8, 130], [1.05, 3.9, 130], [0.45, 3.6, 172], [0.65, 3.6, 172], [1.7, 3.7, 130], [1.2, 3.45, 50], [0.75, 3.0, 172],
  [1.75, 3.15, 172], [0.9, 2.95, 130], [0.6, 2.65, 172], [1.3, 2.75, 130], [1.1, 2.3, 172], [0.85, 2.05, 172], [1.2, 2.0, 172], [0.75, 1.8, 130],
  [1.05, 1.65, 172], [1.5, 1.85, 130], [1.4, 1.4, 130], [1.45, 1.2, 172], [1.55, 0.85, 50], [1.0, 1.0, 50], [0.1, 1.1, 172], [1.9, 2.4, 172],
  [2.3, 2.1, 172], [2.5, 1.85, 172], [2.1, 1.55, 130], [2.6, 1.4, 172], [2.4, 1.3, 50], [2.2, 0.9, 172], [2.6, 0.8, 172], [2.45, 0.6, 130],
  [3.0, 1.35, 50], [3.15, 1.25, 50], [3.45, 1.1, 172], [3.45, 0.85, 172], [3.55, 0.65, 130], [3.3, 0.7, 172], [2.8, 0.15, 172], [3.05, 0.2, 172],
  [3.5, 0.4, 172], [1.7, 0.3, 50], [0.25, 0.25, 50], [0.8, 0.1, 50], [1.6, 6.45, 172], [1.85, 6.25, 50], [1.7, 5.8, 50], [2.15, 5.85, 50],
  [1.55, 5.65, 50], [2.2, 5.5, 50], [2.75, 6.3, 172], [2.65, 6.15, 130], [2.85, 6.0, 172], [3.1, 6.7, 172], [3.3, 5.95, 130], [3.7, 5.8, 172],
  [3.5, 5.4, 130], [3.3, 5.0, 130], [3.65, 4.3, 50], [3.1, 4.55, 50], [2.55, 7.6, 130], [2.1, 7.85, 130], [2.7, 7.3, 172], [3.3, 7.0, 172],
  [2.9, 7.5, 50], [3.45, 7.75, 50], [2.0, 7.3, 50], [1.75, 6.8, 172], [2.6, 2.95, 130], [2.3, 2.8, 130], [3.7, 2.45, 130], [3.2, 2.15, 130],
  [3.55, 2.2, 172], [0.15, 6.85, 130], [0.7, 6.4, 130], [0.3, 5.0, 130], [0.85, 5.55, 130], [1.35, 5.45, 50], [1.05, 4.45, 130], [0.35, 3.95, 130], [1.45, 3.55, 130],
  [0.2, 2.9, 130], [1.05, 3.15, 130], [1.5, 2.5, 130], [0.3, 2.3, 50], [1.65, 2.15, 172], [1.95, 1.9, 130], [2.9, 1.6, 50], [3.2, 1.45, 50], [3.7, 1.55, 130], [3.6, 1.1, 130],
  [2.05, 1.2, 130], [2.35, 0.45, 130], [0.55, 1.35, 50], [1.25, 0.55, 50], [3.85, 0.55, 130], [2.45, 4.95, 50], [2.95, 5.25, 130], [3.75, 5.2, 130], [3.2, 5.6, 50], [2.35, 6.55, 130],
];

// white outline on the field map, in arcsec
const contourX = [1.85, 1.87, 2.01, 2.28, 2.61, 2.99, 3.26, 3.59, 3.8, 3.86, 3.83, 3.78, 3.75, 3.59, 3.32, 3.04, 2.77, 2.45, 2.26, 2.28, 2.55, 2.64, 2.5, 2.23, 1.96, 1.85];
const contourY = [4.19, 4.51, 4.79, 5.03, 5.08, 4.9, 4.62, 4.38, 4.13, 3.75, 3.2, 2.44, 1.95, 1.78, 1.81, 1.98, 2.13, 2.22, 2.49, 2.77, 3.01, 3.2, 3.42, 3.64, 3.86, 4.19];
const contourData = contourX.map((x, i) => ({ x, y: contourY[i] }));

const inclinationTicks = [0, 15, 30, 45, 60, 75, 90, 105, 120, 135, 150, 165, 180];
const inclinationMajor = [0, 45, 90, 135, 180];
const fieldTicks = [0, 20, 40, 60, 80, 100, 120, 140, 160, 180, 200, 220, 240, 260, 280, 300, 320, 340, 360, 380, 400];
const velocityTicks = [-1.5, -1.4, -1.3, -1.2, -1.1, -1, -0.9, -0.8, -0.7, -0.6, -0.5, -0.4, -0.3, -0.2, -0.1, 0, 0.1, 0.2, 0.3, 0.4, 0.5, 0.6, 0.7, 0.8, 0.9, 1, 1.1, 1.2, 1.3, 1.4, 1.5, 1.6, 1.7, 1.8, 1.9, 2, 2.1, 2.2, 2.3, 2.4, 2.5];
const velocityBarTicks = velocityTicks.filter((v) => v <= 1.5);
const zenithBarTicks = [0, 15, 30, 45, 60, 75, 90, 105, 120, 135, 150, 165, 180];

const fieldStops: [number, string][] = [[0, "#00007f"], [50, "#0000ff"], [100, "#0078ff"], [150, "#00ffff"], [200, "#40ff80"], [250, "#ffff00"], [300, "#ff9000"], [350, "#ff0000"], [400, "#7f0000"]];
const velocityStops: [number, string][] = [[-1.5, "#0000ff"], [-1, "#3050f0"], [-0.5, "#90a8f0"], [-0.25, "#c8d4ff"], [0, "#ffffff"], [0.25, "#ffc8c0"], [0.5, "#ff9080"], [1, "#ff3828"], [1.5, "#ff0000"]];
const zenithStops: [number, string][] = [[0, "#000000"], [45, "#0000ff"], [90, "#00ff00"], [135, "#ff0000"], [180, "#000000"]];

function colorFrom(stops: [number, string][], v: number) {
  const rgb = (h: string) => [1, 3, 5].map((i) => parseInt(h.slice(i, i + 2), 16));
  if (v <= stops[0][0]) return stops[0][1];
  for (let i = 1; i < stops.length; i++) {
    if (v <= stops[i][0]) {
      const t = (v - stops[i - 1][0]) / (stops[i][0] - stops[i - 1][0]);
      const a = rgb(stops[i - 1][1]);
      const b = rgb(stops[i][1]);
      return `rgb(${a.map((c, k) => Math.round(c + (b[k] - c) * t)).join(",")})`;
    }
  }
  return stops[stops.length - 1][1];
}

function gridCells(rows: number[][], xMax: number, yMax: number) {
  const ny = rows.length;
  const nx = rows[0].length;
  const cells: { x: number; y: number; v: number; c: number; r: number }[] = [];
  rows.forEach((row, r) =>
    row.forEach((v, c) => cells.push({ x: ((c + 0.5) * xMax) / nx, y: yMax - ((r + 0.5) * yMax) / ny, v, c, r }))
  );
  return { cells, nx, ny };
}
const charRows = (rows: string[], unit: number) => rows.map((s) => s.split("").map((ch) => parseInt(ch, 36) * unit));

const MAP_X_MAX = 3.97;
const MAP_Y_MAX = 7.95;
const mapLeft = 913;
const mapRight = 1035;
const barLeft = 1068;
const barRight = 1087;

type Box = { left: number; top: number; right: number; bottom: number };
// the axes below are 1px wide, so the margins give that pixel back
const plotMargin = (b: Box) => ({ left: b.left - 1, top: b.top - 1, right: PAGE_W - b.right - 1, bottom: PAGE_H - b.bottom - 1 });
const layer = { position: "absolute" as const, left: 0, top: 0, pointerEvents: "none" as const };

type TickCfg = {
  side: "left" | "right" | "top" | "bottom";
  major: number[];
  majorLen: number;
  minorLen: number;
  labels?: Record<string, string>;
  nudge?: Record<string, number>;
  fontSize?: number;
  gap?: number;
};

function makeTick(cfg: TickCfg) {
  return (props: any) => {
    const { x, y, payload } = props;
    const v = payload.value;
    const len = cfg.major.includes(v) ? cfg.majorLen : cfg.minorLen;
    const label = cfg.labels?.[String(v)];
    const gap = cfg.gap ?? 8;
    const fs = cfg.fontSize ?? 22;
    const nudge = cfg.nudge?.[String(v)] ?? 0;
    const dir = { left: [1, 0], right: [-1, 0], top: [0, 1], bottom: [0, -1] }[cfg.side];
    const textProps: any = { fill: INK, fontSize: fs, fontFamily: FONT, fontWeight: 300, letterSpacing: 0.8 };
    return (
      <g>
        <line x1={x} y1={y} x2={x + dir[0] * len} y2={y + dir[1] * len} stroke="#222" strokeWidth={1} />
        {label !== undefined && cfg.side === "left" && (
          <text {...textProps} x={x - gap} y={y + nudge + fs * 0.36} textAnchor="end">{label}</text>
        )}
        {label !== undefined && cfg.side === "right" && (
          <text {...textProps} x={x + gap} y={y + nudge + fs * 0.36} textAnchor="start">{label}</text>
        )}
        {label !== undefined && cfg.side === "bottom" && (
          <text {...textProps} x={x} y={y + gap + fs * 0.72} textAnchor="middle">{label}</text>
        )}
      </g>
    );
  };
}

const frameLine = { stroke: "#111", strokeWidth: 1.2 };

function frameAxes(o: {
  xDomain: number[]; yDomain: number[]; xTicks: number[]; yTicks: number[];
  bottom: TickCfg; top: TickCfg; left: TickCfg; right: TickCfg;
}) {
  return [
    <XAxis key="xb" xAxisId="b" type="number" dataKey="x" orientation="bottom" height={1} domain={o.xDomain} ticks={o.xTicks} interval={0} tickSize={0} tickMargin={0} tickLine={false} axisLine={frameLine} tick={makeTick(o.bottom)} />,
    <XAxis key="xt" xAxisId="t" type="number" dataKey="x" orientation="top" height={1} domain={o.xDomain} ticks={o.xTicks} interval={0} tickSize={0} tickMargin={0} tickLine={false} axisLine={frameLine} tick={makeTick(o.top)} />,
    <YAxis key="yl" yAxisId="l" type="number" dataKey="y" orientation="left" width={1} domain={o.yDomain} ticks={o.yTicks} interval={0} tickSize={0} tickMargin={0} tickLine={false} axisLine={frameLine} tick={makeTick(o.left)} />,
    <YAxis key="yr" yAxisId="r" type="number" dataKey="y" orientation="right" width={1} domain={o.yDomain} ticks={o.yTicks} interval={0} tickSize={0} tickMargin={0} tickLine={false} axisLine={frameLine} tick={makeTick(o.right)} />,
  ];
}

// axes with no series draw no ticks, so every frame carries an invisible one on each axis
function anchorSeries(x: number, y: number) {
  const data = [{ x, y }];
  const none = () => null;
  return [
    <Scatter key="a1" data={data} xAxisId="b" yAxisId="l" shape={none} isAnimationActive={false} />,
    <Scatter key="a2" data={data} xAxisId="t" yAxisId="r" shape={none} isAnimationActive={false} />,
  ];
}

function Diamond(props: any) {
  const { cx, cy } = props;
  const r = 7.2;
  return <path d={`M${cx},${cy - r}L${cx + r},${cy}L${cx},${cy + r}L${cx - r},${cy}Z`} fill="none" stroke="#000" strokeWidth={1.2} />;
}

function ScatterPanel({ box, data, yDomain, yTicks, yMajor, yLabels, yNudge, xLabels, children }: any) {
  const axes = frameAxes({
    xDomain: [0, 180], yDomain, xTicks: inclinationTicks, yTicks,
    bottom: { side: "bottom", major: inclinationMajor, majorLen: 7, minorLen: 4, labels: xLabels, gap: 16 },
    top: { side: "top", major: inclinationMajor, majorLen: 7, minorLen: 4 },
    left: { side: "left", major: yMajor, majorLen: 14, minorLen: 7, labels: yLabels, nudge: yNudge, gap: 8 },
    right: { side: "right", major: yMajor, majorLen: 14, minorLen: 7 },
  });
  return (
    <div style={layer}>
      <ScatterChart width={PAGE_W} height={PAGE_H} margin={plotMargin(box)}>
        {axes}
        {anchorSeries(0, yDomain[0])}
        {children}
        <Scatter data={data} xAxisId="b" yAxisId="l" shape={Diamond} isAnimationActive={false} />
      </ScatterChart>
    </div>
  );
}

const PAD = 8;
function HeatLayer({ box, rows, stops, blur }: { box: Box; rows: number[][]; stops: [number, string][]; blur: number }) {
  const w = box.right - box.left;
  const h = box.bottom - box.top;
  const { cells, nx, ny } = gridCells(rows, MAP_X_MAX, MAP_Y_MAX);
  const cw = w / nx + 0.6;
  const ch = h / ny + 0.6;
  const Cell = (p: any) => {
    const d = p.payload;
    const x0 = p.cx - cw / 2 - (d.c === 0 ? PAD : 0);
    const x1 = p.cx + cw / 2 + (d.c === nx - 1 ? PAD : 0);
    const y0 = p.cy - ch / 2 - (d.r === 0 ? PAD : 0);
    const y1 = p.cy + ch / 2 + (d.r === ny - 1 ? PAD : 0);
    return <rect x={x0} y={y0} width={x1 - x0} height={y1 - y0} fill={colorFrom(stops, d.v)} />;
  };
  return (
    <div style={{ position: "absolute", left: box.left, top: box.top, width: w, height: h, overflow: "hidden" }}>
      <div style={{ position: "absolute", left: -PAD, top: -PAD, filter: `blur(${blur}px)` }}>
        <ScatterChart width={w + 2 * PAD} height={h + 2 * PAD} margin={{ left: PAD, right: PAD, top: PAD, bottom: PAD }}>
          <XAxis hide type="number" dataKey="x" domain={[0, MAP_X_MAX]} />
          <YAxis hide type="number" dataKey="y" domain={[0, MAP_Y_MAX]} />
          <Scatter data={cells} shape={Cell} isAnimationActive={false} />
        </ScatterChart>
      </div>
    </div>
  );
}

function SpeckleLayer({ box, speckles, stops, size }: { box: Box; speckles: number[][]; stops: [number, string][]; size: number }) {
  const data = speckles.map((s) => ({ x: s[0], y: s[1], v: s[2] }));
  const Dot = (p: any) => <rect x={p.cx - size / 2} y={p.cy - size / 2} width={size} height={size} fill={colorFrom(stops, p.payload.v)} opacity={0.85} />;
  return (
    <div style={layer}>
      <ScatterChart width={PAGE_W} height={PAGE_H} margin={{ left: box.left, top: box.top, right: PAGE_W - box.right, bottom: PAGE_H - box.bottom }}>
        <XAxis hide type="number" dataKey="x" domain={[0, MAP_X_MAX]} />
        <YAxis hide type="number" dataKey="y" domain={[0, MAP_Y_MAX]} />
        <Scatter data={data} shape={Dot} isAnimationActive={false} />
      </ScatterChart>
    </div>
  );
}

function MapFrame({ box, showX, children }: { box: Box; showX?: boolean; children?: any }) {
  const axes = frameAxes({
    xDomain: [0, MAP_X_MAX], yDomain: [0, MAP_Y_MAX], xTicks: [0, 1, 2, 3], yTicks: [0, 2, 4, 6],
    bottom: { side: "bottom", major: [0, 1, 2, 3], majorLen: 4, minorLen: 4, labels: showX ? { "0": "0", "2": "2" } : undefined, fontSize: 18, gap: 12 },
    top: { side: "top", major: [0, 1, 2, 3], majorLen: 4, minorLen: 4 },
    left: { side: "left", major: [0, 2, 4, 6], majorLen: 4, minorLen: 4, labels: { "0": "0", "2": "2", "4": "4", "6": "6" }, nudge: { "0": -6 }, fontSize: 18, gap: 8 },
    right: { side: "right", major: [0, 2, 4, 6], majorLen: 4, minorLen: 4 },
  });
  return (
    <div style={layer}>
      <ScatterChart width={PAGE_W} height={PAGE_H} margin={plotMargin(box)}>
        {axes}
        {anchorSeries(0, 0)}
        {children}
      </ScatterChart>
    </div>
  );
}

function ColorBar({ box, id, stops, domain, ticks, major, labels, nudge }: any) {
  const lo = domain[0];
  const hi = domain[1];
  return (
    <div style={layer}>
      <ScatterChart width={PAGE_W} height={PAGE_H} margin={plotMargin(box)}>
        <defs>
          <linearGradient id={id} x1="0" y1="1" x2="0" y2="0">
            {stops.map((s: [number, string]) => (
              <stop key={s[0]} offset={(s[0] - lo) / (hi - lo)} stopColor={s[1]} />
            ))}
          </linearGradient>
        </defs>
        <ReferenceArea xAxisId="b" yAxisId="l" x1={0} x2={1} y1={lo} y2={hi} fill={`url(#${id})`} fillOpacity={1} stroke="none" />
        {frameAxes({
          xDomain: [0, 1], yDomain: domain, xTicks: [0, 1], yTicks: ticks,
          bottom: { side: "bottom", major: [], majorLen: 0, minorLen: 0 },
          top: { side: "top", major: [], majorLen: 0, minorLen: 0 },
          left: { side: "left", major, majorLen: 5, minorLen: 2 },
          right: { side: "right", major, majorLen: 5, minorLen: 2, labels, nudge, fontSize: 18, gap: 8 },
        })}
        {anchorSeries(0, lo)}
      </ScatterChart>
    </div>
  );
}

function Title({ x, y, size, rotate, spacing, children }: any) {
  return (
    <text
      x={x}
      y={y}
      fontSize={size}
      fontFamily={FONT}
      fontWeight={300}
      letterSpacing={spacing ?? 1.1}
      wordSpacing={3}
      fill={INK}
      textAnchor="middle"
      dominantBaseline="central"
      transform={rotate ? `rotate(-90 ${x} ${y})` : undefined}
    >
      {children}
    </text>
  );
}

const topBox: Box = { left: 94, top: 12, right: 823, bottom: 376 };
const lowBox: Box = { left: 94, top: 436, right: 823, bottom: 800.5 };
const mapBoxes: Box[] = [
  { left: mapLeft, top: 12, right: mapRight, bottom: 254 },
  { left: mapLeft, top: 285, right: mapRight, bottom: 527 },
  { left: mapLeft, top: 557, right: mapRight, bottom: 800.5 },
];
const barBoxes: Box[] = mapBoxes.map((b) => ({ ...b, left: barLeft, right: barRight }));

export default function App() {
  return (
    <div style={{ position: "absolute", left: 0, top: 0, width: PAGE_W, height: PAGE_H, overflow: "hidden", background: "#fff" }}>
      <HeatLayer box={mapBoxes[0]} rows={charRows(fieldRows, 18)} stops={fieldStops} blur={1} />
      <SpeckleLayer box={mapBoxes[0]} speckles={fieldSpeckles} stops={fieldStops} size={2.6} />
      <HeatLayer box={mapBoxes[1]} rows={velocityRows.map((r) => r.map((v) => v / 10))} stops={velocityStops} blur={3} />
      <HeatLayer box={mapBoxes[2]} rows={charRows(zenithRows, 5)} stops={zenithStops} blur={2} />
      <SpeckleLayer box={mapBoxes[2]} speckles={zenithSpeckles} stops={zenithStops} size={2.4} />

      <ScatterPanel
        box={topBox}
        data={fieldData}
        yDomain={[0, 400]}
        yTicks={fieldTicks}
        yMajor={[0, 100, 200, 300, 400]}
        yLabels={{ "0": "0", "100": "100", "200": "200", "300": "300", "400": "400" }}
        yNudge={{ "0": -8, "400": 7 }}
      />
      <ScatterPanel
        box={lowBox}
        data={velocityData}
        yDomain={[-1.5, 2.5]}
        yTicks={velocityTicks}
        yMajor={[-1, 0, 1, 2]}
        yLabels={{ "-1": "\u22121", "0": "0", "1": "1", "2": "2" }}
        xLabels={{ "0": "0\u00b0", "45": "45\u00b0", "90": "90\u00b0", "135": "135\u00b0", "180": "180\u00b0" }}
      >
        <ReferenceLine xAxisId="b" yAxisId="l" y={0} stroke="#222" strokeWidth={1.2} strokeDasharray="1.5 5.5" />
      </ScatterPanel>

      <MapFrame box={mapBoxes[0]}>
        <Scatter data={contourData} xAxisId="b" yAxisId="l" line={{ stroke: "#fff", strokeWidth: 2 }} lineType="joint" shape={() => null} isAnimationActive={false} />
      </MapFrame>
      <MapFrame box={mapBoxes[1]} />
      <MapFrame box={mapBoxes[2]} showX />

      <ColorBar box={barBoxes[0]} id="barField" stops={fieldStops} domain={[0, 400]} ticks={fieldTicks} major={[0, 100, 200, 300, 400]}
        labels={{ "0": "0", "100": "100", "200": "200", "300": "300", "400": "400" }} nudge={{ "0": -6, "400": 7 }} />
      <ColorBar box={barBoxes[1]} id="barVelocity" stops={velocityStops} domain={[-1.5, 1.5]} ticks={velocityBarTicks} major={[-1.5, -1, -0.5, 0, 0.5, 1, 1.5]}
        labels={{ "-1.5": "\u22121.5", "-1": "\u22121.0", "-0.5": "\u22120.5", "0": "0.0", "0.5": "0.5", "1": "1.0", "1.5": "1.5" }} nudge={{ "-1.5": -5, "1.5": 6 }} />
      <ColorBar box={barBoxes[2]} id="barZenith" stops={zenithStops} domain={[0, 180]} ticks={zenithBarTicks} major={[0, 45, 90, 135, 180]}
        labels={{ "0": "0\u00b0", "45": "45\u00b0", "90": "90\u00b0", "135": "135\u00b0", "180": "180\u00b0" }} nudge={{ "0": -8, "180": 8 }} />

      <svg width={PAGE_W} height={PAGE_H} style={layer}>
        <Title x={197} y={54} size={26} spacing={2}>Frame 12</Title>
        <Title x={20} y={194} size={22} spacing={1.2} rotate>Magnetic field strength (G)</Title>
        <Title x={28} y={622} size={22} spacing={1.5} rotate>LOS velocity (km s<tspan dy={-8} fontSize={14}>{"\u22121"}</tspan><tspan dy={8}>)</tspan></Title>
        <Title x={458} y={853} size={21} spacing={1.8}>Inclination (deg)</Title>
        <Title x={875} y={133} size={17} rotate>[arcsec]</Title>
        <Title x={875} y={407} size={17} rotate>[arcsec]</Title>
        <Title x={875} y={679} size={17} rotate>[arcsec]</Title>
        <Title x={974} y={842} size={17}>[arcsec]</Title>
        <Title x={1143} y={133} size={16.5} spacing={1.3} rotate>Magnetic field strength (G)</Title>
        <Title x={1143} y={407} size={16.5} spacing={1.3} rotate>LOS velocity (km S<tspan dy={-6} fontSize={11}>{"\u22121"}</tspan><tspan dy={6}>)</tspan></Title>
        <Title x={1143} y={679} size={16.5} spacing={1.3} rotate>Zenith angle (deg)</Title>
      </svg>
    </div>
  );
}
